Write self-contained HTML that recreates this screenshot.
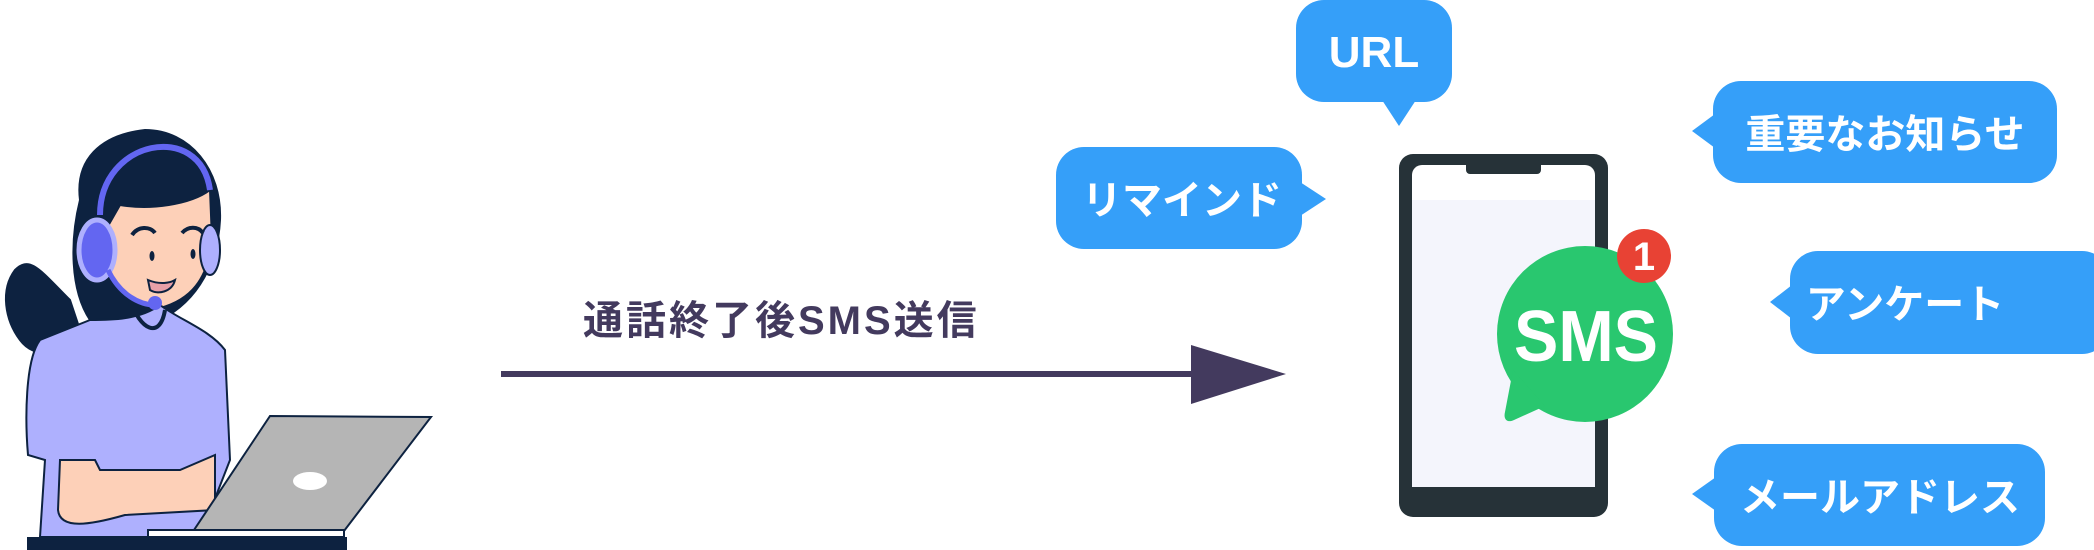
<!DOCTYPE html>
<html><head><meta charset="utf-8"><style>
html,body{margin:0;padding:0;background:#fff;}
body{width:2094px;height:550px;position:relative;overflow:hidden;}
svg{position:absolute;left:0;top:0;}
</style></head><body>
<svg width="2094" height="550" viewBox="0 0 2094 550" xmlns="http://www.w3.org/2000/svg">
<!-- person -->
<g stroke="#0d2240" stroke-width="2">
 <path d="M70,300 C40,270 30,255 15,270 C0,290 5,320 20,340 C35,360 60,355 80,330 Z" fill="#0d2240"/>
 <path d="M80,200 C75,160 100,135 145,130 C190,130 222,170 220,220 C218,260 200,300 160,320 L90,320 C70,290 70,240 80,200 Z" fill="#0d2240"/>
 <path d="M120,205 C150,210 190,205 210,190 L212,240 C208,280 190,300 160,308 C130,310 105,280 100,240 Z" fill="#fdd0b8"/>
 <path d="M90,320 L40,340 C25,360 25,420 28,455 L45,460 L40,537 L200,537 L230,460 L225,350 C210,330 180,320 160,305 C140,320 110,320 90,320 Z" fill="#aeb0fe"/>
 <path d="M130,300 C140,330 160,340 165,310" fill="none" stroke-width="4"/>
 <path d="M60,460 L95,460 L100,470 L180,470 L215,455 L215,510 L125,515 C90,525 60,530 58,510 Z" fill="#fdd0b8"/>
 <polygon points="270,416 431,417 344,531 194,530" fill="#b5b5b5"/>
</g>
<ellipse cx="310" cy="481" rx="17" ry="9" fill="#fff"/>
<rect x="148" y="530" width="196" height="7" fill="#fff" stroke="#0d2240" stroke-width="2"/>
<rect x="27" y="537" width="320" height="13" fill="#0d2240"/>
<path d="M100,215 C100,140 200,120 210,190" fill="none" stroke="#6366f1" stroke-width="6"/>
<ellipse cx="97" cy="250" rx="18" ry="30" fill="#6366f1" stroke="#aeb0fe" stroke-width="5"/>
<ellipse cx="210" cy="250" rx="10" ry="25" fill="#aeb0fe" stroke="#0d2240" stroke-width="2"/>
<path d="M108,270 C120,295 140,305 155,305" fill="none" stroke="#6366f1" stroke-width="5"/>
<circle cx="155" cy="303" r="7" fill="#6366f1"/>
<ellipse cx="152" cy="256" rx="2.5" ry="5" fill="#0d2240"/><ellipse cx="193" cy="254" rx="2.5" ry="5" fill="#0d2240"/>
<path d="M148,280 C160,285 170,283 175,280 C172,292 158,295 150,290 Z" fill="#e7a0a8" stroke="#0d2240" stroke-width="2"/>
<path d="M132,235 C138,226 150,226 155,233 M182,233 C188,226 198,226 203,233" fill="none" stroke="#0d2240" stroke-width="4"/>
<!-- arrow -->
<text x="583" y="334" font-family="Liberation Sans,'Noto Sans CJK JP',sans-serif" font-weight="bold" font-size="40" fill="#433a5e" letter-spacing="3">通話終了後SMS送信</text>
<rect x="501" y="371" width="692" height="6" fill="#433a5e"/>
<polygon points="1191,345 1286,374 1191,404" fill="#433a5e"/>
<!-- phone -->
<rect x="1399" y="154" width="209" height="363" rx="14" fill="#263238"/>
<rect x="1412" y="165" width="183" height="322" rx="10" fill="#fff"/>
<rect x="1412" y="200" width="183" height="287" fill="#f4f5fc"/>
<rect x="1466" y="160" width="75" height="14" rx="4" fill="#263238"/>
<!-- sms bubble -->
<circle cx="1585" cy="334" r="88" fill="#29c76f"/>
<path d="M1513,370 L1505,412 C1503,420 1508,423 1514,420 L1545,406 Z" fill="#29c76f"/>
<text x="1514" y="361" textLength="144" lengthAdjust="spacingAndGlyphs" font-family="Liberation Sans,sans-serif" font-weight="bold" font-size="72" fill="#fff">SMS</text>
<circle cx="1644" cy="256" r="27" fill="#e84234"/>
<text x="1644" y="270" text-anchor="middle" font-family="Liberation Sans,sans-serif" font-weight="bold" font-size="40" fill="#fff">1</text>
<!-- bubbles -->
<g fill="#359ff9">
 <rect x="1296" y="0" width="156" height="102" rx="28"/><polygon points="1382,100 1416,100 1399,126"/>
 <rect x="1056" y="147" width="246" height="102" rx="28"/><polygon points="1300,182 1326,199 1300,216"/>
 <rect x="1713" y="81" width="344" height="102" rx="28"/><polygon points="1715,114 1692,131 1715,148"/>
 <rect x="1790" y="251" width="320" height="103" rx="28"/><polygon points="1792,285 1770,302 1792,319"/>
 <rect x="1714" y="444" width="331" height="102" rx="28"/><polygon points="1716,477 1692,494 1716,511"/>
</g>
<g font-family="Liberation Sans,'Noto Sans CJK JP',sans-serif" font-weight="bold" fill="#fff" text-anchor="middle">
 <text x="1374" y="67" font-size="44">URL</text>
 <text x="1182" y="214" font-size="40">リマインド</text>
 <text x="1885" y="148" font-size="40">重要なお知らせ</text>
 <text x="1905" y="318" font-size="40">アンケート</text>
 <text x="1880" y="511" font-size="40">メールアドレス</text>
</g>
</svg>
</body></html>
